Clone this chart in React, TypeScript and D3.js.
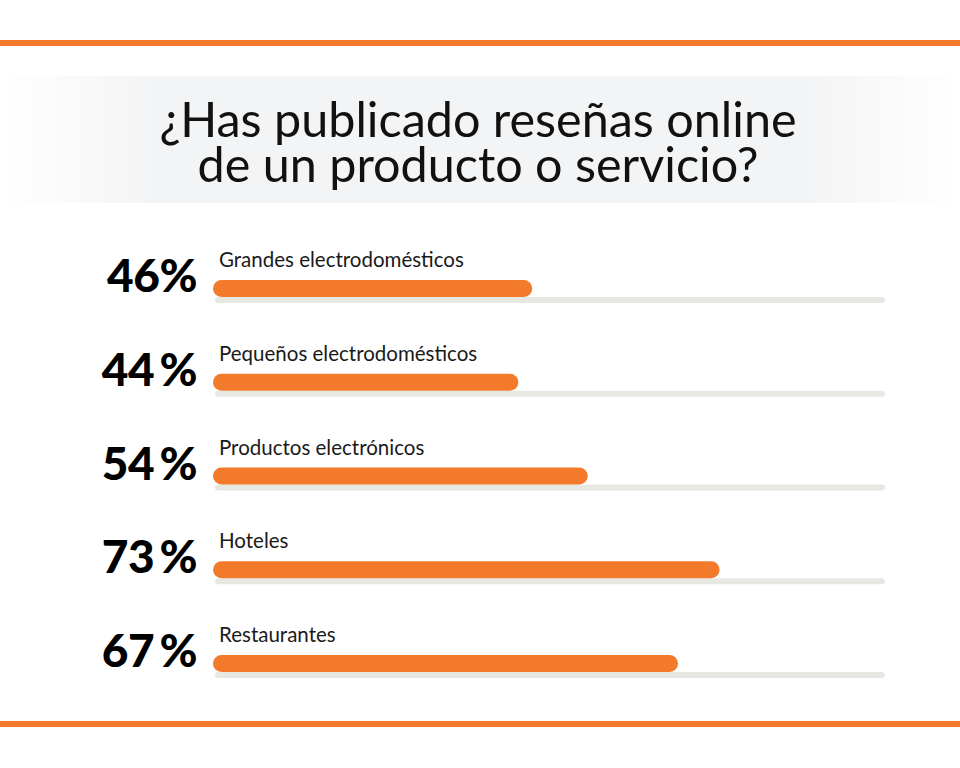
import React from "react";
import * as d3 from "d3";

const categories = [
  "Grandes electrodomésticos",
  "Pequeños electrodomésticos",
  "Productos electrónicos",
  "Hoteles",
  "Restaurantes",
];
const values = [46, 44, 54, 73, 67];
const valueLabels = ["46%", "44\u2009%", "54\u2009%", "73\u2009%", "67\u2009%"];
const titleLines = ["¿Has publicado reseñas online", "de un producto o servicio?"];

const W = 960;
const H = 768;
const ORANGE = "#f37a2b";

export default function App() {
  const x = d3.scaleLinear().domain([0, 100]).range([213, 907]);
  const y = d3
    .scalePoint<string>()
    .domain(categories)
    .range([280, 655]);
  const barH = 17;
  const trackEnd = 885;

  return (
    <svg
      width={W}
      height={H}
      style={{ position: "absolute", left: 0, top: 0, background: "#fff" }}
    >
      <defs>
        <linearGradient id="band" x1="0" x2="1" y1="0" y2="0">
          <stop offset="0" stopColor="#ffffff" />
          <stop offset="0.16" stopColor="#f3f4f5" />
          <stop offset="0.84" stopColor="#f3f4f5" />
          <stop offset="1" stopColor="#ffffff" />
        </linearGradient>
      </defs>
      <rect x={0} y={0} width={W} height={H} fill="#fff" />
      <rect x={0} y={40} width={W} height={6} fill={ORANGE} />
      <rect x={0} y={721} width={W} height={6} fill={ORANGE} />
      <rect x={0} y={76} width={W} height={127} fill="url(#band)" />
      <text
        textAnchor="middle"
        fontFamily="Lato"
        fontSize={48.5}
        fill="#111"
      >
        {titleLines.map((t, i) => (
          <tspan key={t} x={W / 2 - 2} y={137 + i * 45}>
            {t}
          </tspan>
        ))}
      </text>
      {categories.map((c, i) => {
        const top = y(c)!;
        return (
          <g key={c}>
            <rect
              x={x(0) + 2}
              y={top + barH}
              width={trackEnd - x(0) - 2}
              height={6}
              rx={3}
              fill="#e8e8e3"
            />
            <rect
              x={x(0)}
              y={top}
              width={x(values[i]) - x(0)}
              height={barH}
              rx={8.5}
              fill={ORANGE}
            />
            <text
              x={219}
              y={top - 13}
              fontFamily="Lato"
              fontSize={20.5}
              fill="#1a1a1a"
            >
              {c}
            </text>
            <text
              x={197}
              y={top + 12}
              textAnchor="end"
              fontFamily="Lato"
              fontWeight={900}
              fontSize={46}
              fill="#000"
              letterSpacing={-0.5}
            >
              {valueLabels[i]}
            </text>
          </g>
        );
      })}
    </svg>
  );
}
